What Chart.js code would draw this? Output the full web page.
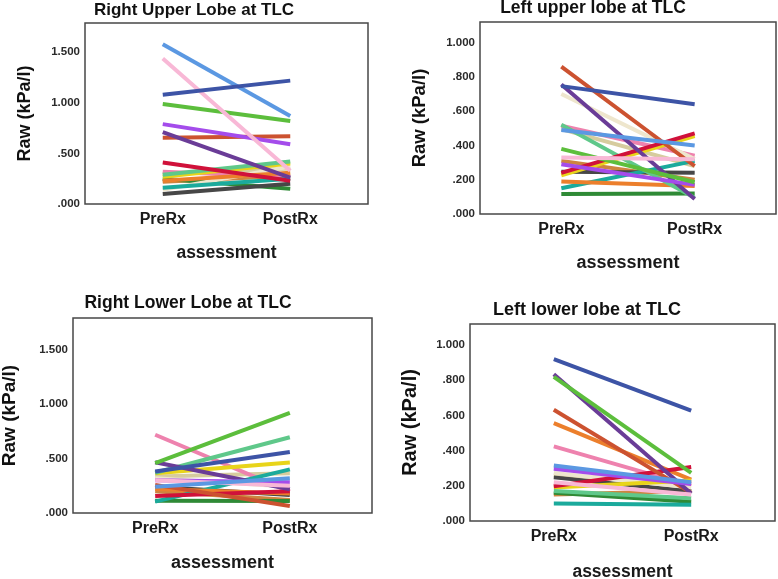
<!DOCTYPE html>
<html lang="en">
<head>
<meta charset="UTF-8">
<title>Raw at TLC</title>
<style>
    html, body {
        margin: 0;
        padding: 0;
        background: #ffffff;
        overflow: hidden;
    }
    body {
        width: 778px;
        height: 579px;
        position: relative;
    }
    canvas {
        position: absolute;
    }
</style>
<script src="https://cdn.jsdelivr.net/npm/chart.js"></script>
</head>
<body>

<canvas id="rul"></canvas>
<canvas id="lul"></canvas>
<canvas id="rll"></canvas>
<canvas id="lll"></canvas>

<script>
// categories
var assessments = ['PreRx', 'PostRx'];

// one colour per subject, same order in every panel
var subjectColors = [
    '#3d54a6', '#5b98e2', '#f8b8d6', '#5cbe3c', '#a44ceb', '#6a3c97',
    '#cc5230', '#d0113a', '#5fc88a', '#e8d41a', '#ec7f2c', '#1baa9c',
    '#eee6cd', '#474747', '#2f8a36', '#ee82ae', '#d6cc9e', '#cd8540'
];

// Right upper lobe
var preRUL  = [1.08, 1.58, 1.44, 0.99, 0.79, 0.71, 0.655, 0.41, 0.29, 0.27, 0.23, 0.16, 0.14, 0.10, 0.25, 0.32, 0.30, 0.22];
var postRUL = [1.22, 0.87, 0.33, 0.82, 0.59, 0.26, 0.67, 0.23, 0.42, 0.40, 0.31, 0.25, 0.37, 0.20, 0.15, 0.27, 0.35, 0.28];

// Left upper lobe
var preLUL  = [0.746, 0.49, 0.33, 0.38, 0.29, 0.755, 0.86, 0.24, 0.52, 0.225, 0.19, 0.15, 0.70, 0.246, 0.116, 0.515, 0.495, 0.31];
var postLUL = [0.64, 0.40, 0.32, 0.185, 0.17, 0.087, 0.28, 0.47, 0.095, 0.455, 0.163, 0.31, 0.32, 0.24, 0.12, 0.34, 0.28, 0.20];

// Right lower lobe
var preRLL  = [0.38, 0.24, 0.30, 0.457, 0.30, 0.466, 0.258, 0.156, 0.37, 0.365, 0.22, 0.104, 0.32, 0.242, 0.113, 0.718, 0.334, 0.20];
var postRLL = [0.56, 0.32, 0.25, 0.92, 0.283, 0.218, 0.065, 0.20, 0.695, 0.463, 0.18, 0.40, 0.24, 0.166, 0.11, 0.196, 0.365, 0.12];

// Left lower lobe
var preLLL  = [0.92, 0.316, 0.22, 0.82, 0.297, 0.834, 0.632, 0.197, 0.17, 0.19, 0.556, 0.099, 0.273, 0.248, 0.16, 0.424, 0.26, 0.15];
var postLLL = [0.628, 0.22, 0.15, 0.273, 0.21, 0.156, 0.16, 0.307, 0.13, 0.23, 0.235, 0.093, 0.19, 0.169, 0.11, 0.20, 0.22, 0.17];

// tick values
var rightTicks = [0, 0.5, 1.0, 1.5];
var leftTicks = [0, 0.2, 0.4, 0.6, 0.8, 1.0];

var fontFamily = '"Liberation Sans", Arial, sans-serif';

var framePlugin = {
    id: 'frame',
    beforeDatasetsDraw: function(chart) {
        var a = chart.chartArea;
        var ctx = chart.ctx;
        ctx.save();
        ctx.strokeStyle = '#474747';
        ctx.lineWidth = 1.5;
        ctx.strokeRect(a.left, a.top, a.right - a.left, a.bottom - a.top);
        ctx.restore();
    }
};

function fmt(v) {
    var s = Number(v).toFixed(3);
    if (s.charAt(0) === '0') s = s.substring(1);
    return s;
}

// p: where the canvas sits on the page and where the plot frame, titles go
function makePanel(p) {
    var canvas = document.getElementById(p.id);
    var w = p.right + p.padRight - p.x0;
    var h = Math.round(p.assessY + p.axisSize / 2 - p.y0);
    // centre the chart title on titleX
    var padLeft = 2 * p.titleX - p.right - p.x0;
    canvas.width = w;
    canvas.height = h;
    canvas.style.left = p.x0 + 'px';
    canvas.style.top = p.y0 + 'px';

    var datasets = p.pre.map(function(v, i) {
        return {
            data: [{ x: 0, y: v }, { x: 1, y: p.post[i] }],
            borderColor: subjectColors[i],
            borderWidth: 4,
            pointRadius: 0,
            fill: false
        };
    });

    var titleTop = p.titleY - p.y0 - p.titleSize / 2;
    var titleBottom = (p.top - p.y0) - titleTop - p.titleSize;

    new Chart(canvas.getContext('2d'), {
        type: 'line',
        data: { datasets: datasets },
        plugins: [framePlugin],
        options: {
            responsive: false,
            animation: false,
            devicePixelRatio: 1,
            layout: { padding: { left: padLeft, right: p.padRight, top: 0, bottom: 0 } },
            plugins: {
                legend: { display: false },
                tooltip: { enabled: false },
                title: {
                    display: true,
                    text: p.title,
                    color: '#111',
                    font: { family: fontFamily, size: p.titleSize, weight: 'bold', lineHeight: 1 },
                    padding: { top: titleTop, bottom: titleBottom }
                }
            },
            scales: {
                x: {
                    type: 'linear',
                    min: -0.61,
                    max: 1.61,
                    grid: { display: false, drawTicks: false },
                    border: { display: false },
                    afterBuildTicks: function(scale) {
                        scale.ticks = assessments.map(function(a, i) { return { value: i }; });
                    },
                    afterFit: function(scale) {
                        scale.height = h - (p.bottom - p.y0);
                    },
                    ticks: {
                        color: '#1a1a1a',
                        padding: 6,
                        font: { family: fontFamily, size: 16, weight: 'bold' },
                        callback: function(v) { return assessments[v]; }
                    },
                    title: {
                        display: true,
                        text: 'assessment',
                        color: '#1a1a1a',
                        font: { family: fontFamily, size: p.axisSize, weight: 'bold', lineHeight: 1 },
                        padding: 0
                    }
                },
                y: {
                    min: 0,
                    max: p.max,
                    grid: { display: false, drawTicks: false },
                    border: { display: false },
                    afterBuildTicks: function(scale) {
                        scale.ticks = p.ticks.map(function(v) { return { value: v }; });
                    },
                    afterFit: function(scale) {
                        scale.width = p.left - p.x0 - padLeft;
                    },
                    ticks: {
                        color: '#2a2a2a',
                        padding: 5,
                        font: { family: fontFamily, size: 11.5, weight: 'bold' },
                        callback: function(v) { return fmt(v); }
                    },
                    title: {
                        display: true,
                        text: 'Raw (kPa/l)',
                        color: '#111',
                        font: { family: fontFamily, size: p.yTitleSize, weight: 'bold', lineHeight: 1 },
                        padding: { top: p.yTitleX - p.x0 - padLeft - p.yTitleSize / 2, bottom: 0 }
                    }
                }
            }
        }
    });
}

makePanel({ id: 'rul', title: 'Right Upper Lobe at TLC', pre: preRUL, post: postRUL, ticks: rightTicks, max: 1.79,
    x0: 0, y0: 0, left: 85, right: 368, padRight: 2, top: 23, bottom: 204,
    titleX: 194, titleY: 10, titleSize: 17, yTitleX: 25, yTitleSize: 18, assessY: 253, axisSize: 17.5 });
makePanel({ id: 'lul', title: 'Left upper lobe at TLC', pre: preLUL, post: postLUL, ticks: leftTicks, max: 1.12,
    x0: 395, y0: 0, left: 480, right: 776, padRight: 1, top: 22, bottom: 214,
    titleX: 593, titleY: 8, titleSize: 17.5, yTitleX: 420, yTitleSize: 18.5, assessY: 263, axisSize: 18 });
makePanel({ id: 'rll', title: 'Right Lower Lobe at TLC', pre: preRLL, post: postRLL, ticks: rightTicks, max: 1.79,
    x0: 0, y0: 290, left: 73, right: 372, padRight: 2, top: 318, bottom: 513,
    titleX: 188, titleY: 303, titleSize: 17.5, yTitleX: 10, yTitleSize: 19, assessY: 563, axisSize: 18 });
makePanel({ id: 'lll', title: 'Left lower lobe at TLC', pre: preLLL, post: postLLL, ticks: leftTicks, max: 1.12,
    x0: 390, y0: 290, left: 470, right: 775, padRight: 2, top: 324, bottom: 521,
    titleX: 587, titleY: 310, titleSize: 18, yTitleX: 410, yTitleSize: 20, assessY: 572, axisSize: 17.5 });
</script>
</body>
</html>
